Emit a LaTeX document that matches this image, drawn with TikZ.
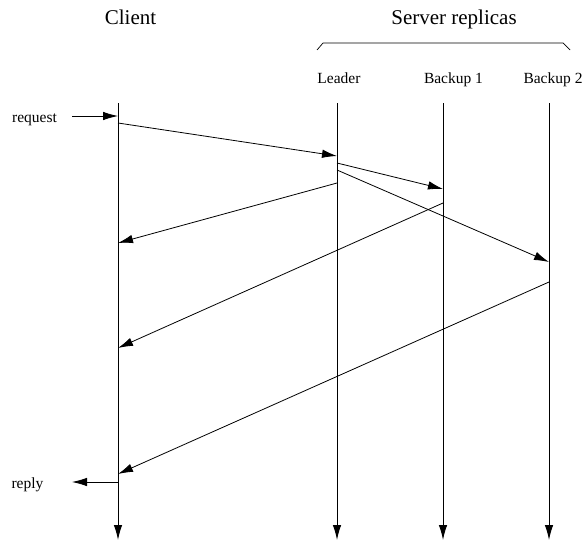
\documentclass[tikz,border=0pt]{standalone}
\usepackage{fontspec}
\setmainfont{Liberation Serif}
\usetikzlibrary{arrows.meta}
\begin{document}
\begin{tikzpicture}[x=1pt,y=-1pt, line width=0.8pt,
  msg/.style={-{Latex[length=15pt,width=8.5pt]}},
  life/.style={line width=1pt,-{Latex[length=15pt,width=8.5pt]}},
  big/.style={font=\fontsize{21}{25}\selectfont, anchor=base, inner sep=0pt},
  lbl/.style={font=\fontsize{15.5}{18}\selectfont, anchor=base, inner sep=0pt}]
\useasboundingbox (0,0) rectangle (583,543);
% titles
\node[big] (client) at (130.5,25) {Client};
\node[big] (server) at (454,25) {Server replicas};
\coordinate (br1) at (317,50);
\coordinate (br2) at (323,43);
\coordinate (br3) at (563,43);
\coordinate (br4) at (570,50);
\draw[line width=0.7pt] (br1) -- (br2) -- (br3) -- (br4);
\node[lbl] (leader) at (339,83) {Leader};
\node[lbl] (backup1) at (453.5,83) {Backup 1};
\node[lbl] (backup2) at (553,83) {Backup 2};
% lifelines
\coordinate (ct) at (118,103);  \coordinate (cb) at (118,540);
\coordinate (lt) at (337,103);  \coordinate (lb) at (337,540);
\coordinate (b1t) at (443,103); \coordinate (b1b) at (443,540);
\coordinate (b2t) at (549,103); \coordinate (b2b) at (549,540);
\draw[life] (ct) -- (cb);
\draw[life] (lt) -- (lb);
\draw[life] (b1t) -- (b1b);
\draw[life] (b2t) -- (b2b);
% request / reply
\node[lbl] (request) at (34.5,122) {request};
\node[lbl] (reply) at (27.5,488) {reply};
\coordinate (rq) at (72,116);  \coordinate (cr) at (118,116);
\coordinate (cy) at (118,482); \coordinate (ry) at (72,482);
\draw[msg] (rq) -- (cr);
\draw[msg] (cy) -- (ry);
% messages
\coordinate (c1) at (118,123);  \coordinate (l1) at (337,156);
\coordinate (l2) at (337,163);  \coordinate (x1) at (443,189);
\coordinate (l3) at (337,170);  \coordinate (x2) at (549,262);
\coordinate (l4) at (337,183);  \coordinate (c2) at (118,243);
\coordinate (y1) at (443,203);  \coordinate (c3) at (118,348);
\coordinate (y2) at (549,282);  \coordinate (c4) at (118,474);
\draw[msg] (c1) -- (l1);
\draw[msg] (l2) -- (x1);
\draw[msg] (l3) -- (x2);
\draw[msg] (l4) -- (c2);
\draw[msg] (y1) -- (c3);
\draw[msg] (y2) -- (c4);
\end{tikzpicture}
\end{document}
